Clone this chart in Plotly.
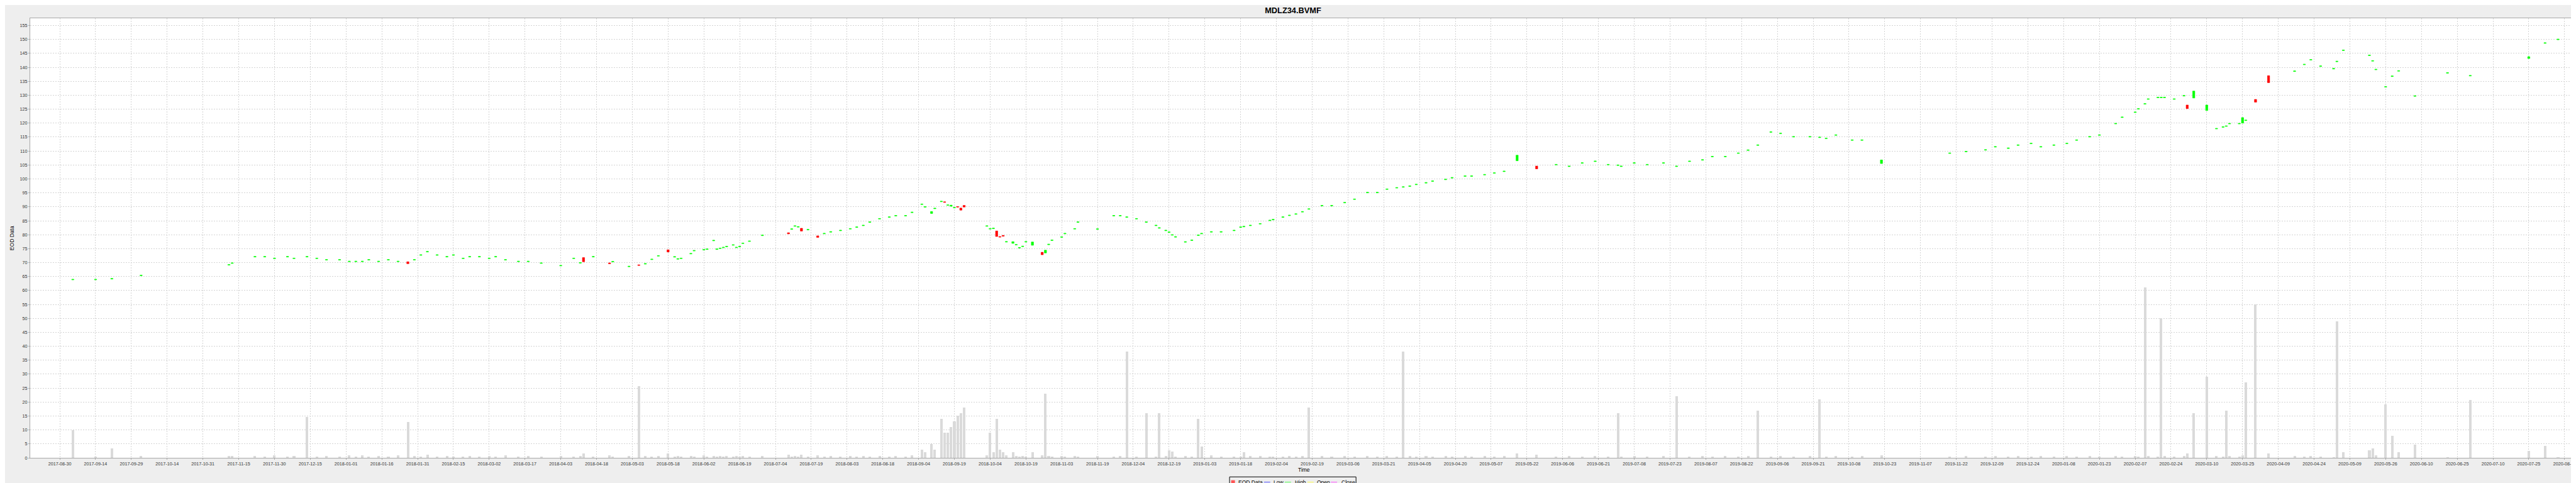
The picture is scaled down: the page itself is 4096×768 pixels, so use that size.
import numpy as np
import plotly.graph_objects as go

ORIGIN = "2017-08-30"   # trading-day axis origin (weekends skipped)
TICK_STEP = 11          # trading days between labelled ticks

dates = [
 "2017-09-05","2017-09-14","2017-09-21","2017-10-04","2017-11-10","2017-11-13","2017-11-22","2017-11-27",
 "2017-11-30","2017-12-06","2017-12-08","2017-12-14","2017-12-19","2017-12-22","2017-12-28","2018-01-02",
 "2018-01-04","2018-01-08","2018-01-10","2018-01-15","2018-01-18","2018-01-23","2018-01-26","2018-01-30",
 "2018-02-01","2018-02-05","2018-02-08","2018-02-13","2018-02-15","2018-02-20","2018-02-22","2018-02-27",
 "2018-03-02","2018-03-06","2018-03-09","2018-03-15","2018-03-20","2018-03-26","2018-04-03","2018-04-09",
 "2018-04-11","2018-04-12","2018-04-17","2018-04-24","2018-04-25","2018-05-02","2018-05-07","2018-05-09",
 "2018-05-11","2018-05-15","2018-05-18","2018-05-22","2018-05-23","2018-05-24","2018-05-29","2018-05-30",
 "2018-06-04","2018-06-05","2018-06-07","2018-06-08","2018-06-11","2018-06-12","2018-06-13","2018-06-15",
 "2018-06-18","2018-06-19","2018-06-20","2018-06-22","2018-06-28","2018-07-10","2018-07-11","2018-07-12",
 "2018-07-13","2018-07-16","2018-07-18","2018-07-23","2018-07-25","2018-07-27","2018-08-01","2018-08-06",
 "2018-08-08","2018-08-10","2018-08-14","2018-08-17","2018-08-22","2018-08-24","2018-08-29","2018-08-31",
 "2018-09-05","2018-09-06","2018-09-10","2018-09-11","2018-09-13","2018-09-14","2018-09-17","2018-09-18",
 "2018-09-19","2018-09-20","2018-09-21","2018-09-24","2018-10-03","2018-10-04","2018-10-05","2018-10-08",
 "2018-10-09","2018-10-10","2018-10-11","2018-10-15","2018-10-16","2018-10-17","2018-10-18","2018-10-19",
 "2018-10-23","2018-10-26","2018-10-29","2018-10-30","2018-10-31","2018-11-05","2018-11-06","2018-11-09",
 "2018-11-12","2018-11-20","2018-11-27","2018-11-29","2018-12-03","2018-12-06","2018-12-11","2018-12-14",
 "2018-12-17","2018-12-19","2018-12-20","2018-12-21","2018-12-24","2018-12-27","2018-12-31","2019-01-02",
 "2019-01-03","2019-01-08","2019-01-11","2019-01-17","2019-01-21","2019-01-22","2019-01-24","2019-01-29",
 "2019-02-01","2019-02-04","2019-02-07","2019-02-11","2019-02-13","2019-02-15","2019-02-19","2019-02-25",
 "2019-02-28","2019-03-06","2019-03-11","2019-03-15","2019-03-20","2019-03-25","2019-03-28","2019-04-01",
 "2019-04-03","2019-04-05","2019-04-10","2019-04-12","2019-04-18","2019-04-22","2019-04-26","2019-04-30",
 "2019-05-06","2019-05-09","2019-05-14","2019-05-20","2019-05-28","2019-06-05","2019-06-11","2019-06-17",
 "2019-06-21","2019-06-27","2019-07-02","2019-07-03","2019-07-09","2019-07-15","2019-07-22","2019-07-26",
 "2019-08-01","2019-08-07","2019-08-12","2019-08-16","2019-08-22","2019-08-27","2019-08-30","2019-09-05",
 "2019-09-10","2019-09-16","2019-09-23","2019-09-26","2019-09-30","2019-10-03","2019-10-10","2019-10-15",
 "2019-10-23","2019-11-21","2019-11-28","2019-12-06","2019-12-11","2019-12-17","2019-12-20","2019-12-26",
 "2019-12-31","2020-01-06","2020-01-10","2020-01-15","2020-01-21","2020-01-24","2020-01-31","2020-02-04",
 "2020-02-10","2020-02-11","2020-02-13","2020-02-14","2020-02-19","2020-02-20","2020-02-21","2020-02-26",
 "2020-03-02","2020-03-03","2020-03-05","2020-03-11","2020-03-16","2020-03-18","2020-03-19","2020-03-20",
 "2020-03-25","2020-03-26","2020-03-27","2020-04-01","2020-04-07","2020-04-17","2020-04-22","2020-04-24",
 "2020-04-29","2020-05-05","2020-05-06","2020-05-08","2020-05-20","2020-05-21","2020-05-22","2020-05-27",
 "2020-05-29","2020-06-02","2020-06-09","2020-06-23","2020-07-02","2020-07-28","2020-08-04","2020-08-10",
]
opens = [
 63.8,63.8,64.1,65.3,69.1,69.7,72.0,72.0,  71.4,72.0,71.4,72.0,71.4,70.9,70.9,70.3,
 70.3,70.3,70.9,70.3,70.9,70.3,70.3,70.9,  72.6,73.8,72.6,72.0,72.6,71.4,72.0,72.0,
 71.4,72.0,70.9,70.3,70.3,69.7,68.8,71.4,  69.8,71.8,72.0,69.9,70.25,68.5,69.2,69.45,
 71.05,72.3,74.6,71.95,71.2,71.4,73.1,74.15,  74.5,74.7,77.8,74.7,75.0,75.3,75.65,76.2,
 75.3,75.65,76.8,77.55,79.65,80.7,81.9,83.0,  82.7,82.3,81.7,79.6,80.3,80.9,81.4,82.0,
 82.6,83.2,84.4,85.6,86.2,86.7,86.7,87.9,  90.8,89.85,87.6,89.3,91.8,91.8,90.5,90.2,
 89.6,90.1,89.55,90.5,83.0,82.0,82.15,81.35,  79.35,79.75,77.35,76.9,76.3,75.2,75.7,77.35,
 76.2,73.7,73.45,76.4,77.9,79.05,80.3,82.0,  84.4,81.9,86.7,86.7,86.2,85.6,84.4,83.2,
 82.3,81.4,80.8,79.8,79.1,77.3,77.9,79.7,  80.3,80.9,80.9,81.4,82.6,82.8,83.2,83.8,
 85.0,85.3,86.2,86.8,87.3,88.1,89.1,90.3,  90.3,91.4,92.6,95.0,95.0,96.2,96.7,97.0,
 97.3,97.9,98.5,99.1,99.7,100.3,100.9,100.9,  101.4,102.0,102.6,106.5,104.6,105.0,104.4,105.6,
 106.2,105.0,104.8,104.4,105.6,105.0,105.6,104.4,  106.2,106.7,107.9,107.9,109.1,110.2,112.0,116.7,
 116.2,115.0,115.0,114.8,114.4,115.6,113.8,113.8,  105.5,109.1,109.7,110.3,111.4,110.9,112.0,112.6,
 111.4,112.0,112.6,113.8,115.0,115.6,119.7,122.0,  123.8,125.0,126.8,128.5,129.1,129.1,129.1,128.5,
 129.7,126.5,129.0,124.5,117.9,118.5,118.8,119.7,  119.7,120.0,120.9,128.5,137.0,138.5,140.9,142.6,
 140.3,139.4,142.0,146.0,144.2,142.2,139.1,132.9,  136.7,138.6,129.6,137.9,136.9,143.15,148.6,149.9,
]
closes = [
 64.0,64.0,64.3,65.5,69.3,69.9,72.2,72.2,  71.6,72.2,71.6,72.2,71.6,71.1,71.1,70.5,
 70.5,70.5,71.1,70.5,71.1,70.5,69.6,71.1,  72.8,74.0,72.8,72.2,72.8,71.6,72.2,72.2,
 71.6,72.2,71.1,70.5,70.5,69.9,69.0,71.6,  70.0,70.3,72.2,69.6,70.45,68.7,69.0,69.65,
 71.25,72.5,73.8,72.15,71.4,71.6,73.3,74.35,  74.7,74.9,78.0,74.9,75.2,75.5,75.85,76.4,
 75.5,75.85,77.0,77.75,79.85,80.3,82.1,83.2,  82.9,81.3,81.9,79.0,80.5,81.1,81.6,82.2,
 82.8,83.4,84.6,85.8,86.4,86.9,86.9,88.1,  91.0,90.05,88.3,89.5,92.0,91.6,90.7,90.6,
 89.8,89.9,88.8,89.9,83.2,82.2,82.35,79.35,  79.15,79.45,77.55,77.5,76.5,75.4,75.9,77.55,
 77.4,72.8,74.45,76.6,78.1,79.25,80.5,82.2,  84.6,82.1,86.9,86.9,86.4,85.8,84.6,83.4,
 82.5,81.6,81.0,80.0,79.3,77.5,78.1,79.9,  80.5,81.1,81.1,81.6,82.8,83.0,83.4,84.0,
 85.2,85.5,86.4,87.0,87.5,88.3,89.3,90.5,  90.5,91.6,92.8,95.2,95.2,96.4,96.9,97.2,
 97.5,98.1,98.7,99.3,99.9,100.5,101.1,101.1,  101.6,102.2,102.8,108.5,103.6,105.2,104.6,105.8,
 106.4,105.2,105.0,104.6,105.8,105.2,105.8,104.6,  106.4,106.9,108.1,108.1,109.3,110.4,112.2,116.9,
 116.4,115.2,115.2,115.0,114.6,115.8,114.0,114.0,  106.8,109.3,109.9,110.5,111.6,111.1,112.2,112.8,
 111.6,112.2,112.8,114.0,115.2,115.8,119.9,122.2,  124.0,125.2,127.0,128.7,129.3,129.3,129.3,128.7,
 129.9,125.2,131.5,126.5,118.1,118.7,119.0,119.9,  119.9,122.0,121.1,127.5,134.5,138.7,141.1,142.8,
 140.5,139.6,142.2,146.2,144.4,142.4,139.3,133.1,  136.9,138.8,129.8,138.1,137.1,143.8,148.8,150.1,
]
highs = [
 64.0,64.0,64.3,65.5,69.3,69.9,72.2,72.2,  71.6,72.2,71.6,72.2,71.6,71.1,71.1,70.5,
 70.5,70.5,71.1,70.5,71.1,70.5,70.3,71.1,  72.8,74.0,72.8,72.2,72.8,71.6,72.2,72.2,
 71.6,72.2,71.1,70.5,70.5,69.9,69.0,71.6,  70.0,71.8,72.2,69.9,70.45,68.7,69.2,69.65,
 71.25,72.5,74.6,72.15,71.4,71.6,73.3,74.35,  74.7,74.9,78.0,74.9,75.2,75.5,75.85,76.4,
 75.5,75.85,77.0,77.75,79.85,80.7,82.1,83.2,  82.9,82.3,81.9,79.6,80.5,81.1,81.6,82.2,
 82.8,83.4,84.6,85.8,86.4,86.9,86.9,88.1,  91.0,90.05,88.3,89.5,92.0,91.8,90.7,90.6,
 89.8,90.1,89.55,90.5,83.2,82.2,82.35,81.35,  79.35,79.75,77.55,77.5,76.5,75.4,75.9,77.55,
 77.4,73.7,74.45,76.6,78.1,79.25,80.5,82.2,  84.6,82.1,86.9,86.9,86.4,85.8,84.6,83.4,
 82.5,81.6,81.0,80.0,79.3,77.5,78.1,79.9,  80.5,81.1,81.1,81.6,82.8,83.0,83.4,84.0,
 85.2,85.5,86.4,87.0,87.5,88.3,89.3,90.5,  90.5,91.6,92.8,95.2,95.2,96.4,96.9,97.2,
 97.5,98.1,98.7,99.3,99.9,100.5,101.1,101.1,  101.6,102.2,102.8,108.5,104.6,105.2,104.6,105.8,
 106.4,105.2,105.0,104.6,105.8,105.2,105.8,104.6,  106.4,106.9,108.1,108.1,109.3,110.4,112.2,116.9,
 116.4,115.2,115.2,115.0,114.6,115.8,114.0,114.0,  106.8,109.3,109.9,110.5,111.6,111.1,112.2,112.8,
 111.6,112.2,112.8,114.0,115.2,115.8,119.9,122.2,  124.0,125.2,127.0,128.7,129.3,129.3,129.3,128.7,
 129.9,126.5,131.5,126.5,118.1,118.7,119.0,119.9,  119.9,122.0,121.1,128.5,137.0,138.7,141.1,142.8,
 140.5,139.6,142.2,146.2,144.4,142.4,139.3,133.1,  136.9,138.8,129.8,138.1,137.1,144.2,148.8,150.1,
]
lows = [
 63.8,63.8,64.1,65.3,69.1,69.7,72.0,72.0,  71.4,72.0,71.4,72.0,71.4,70.9,70.9,70.3,
 70.3,70.3,70.9,70.3,70.9,70.3,69.6,70.9,  72.6,73.8,72.6,72.0,72.6,71.4,72.0,72.0,
 71.4,72.0,70.9,70.3,70.3,69.7,68.8,71.4,  69.8,70.3,72.0,69.6,70.25,68.5,69.0,69.45,
 71.05,72.3,73.8,71.95,71.2,71.4,73.1,74.15,  74.5,74.7,77.8,74.7,75.0,75.3,75.65,76.2,
 75.3,75.65,76.8,77.55,79.65,80.3,81.9,83.0,  82.7,81.3,81.7,79.0,80.3,80.9,81.4,82.0,
 82.6,83.2,84.4,85.6,86.2,86.7,86.7,87.9,  90.8,89.85,87.6,89.3,91.8,91.6,90.5,90.2,
 89.6,89.9,88.8,89.9,83.0,82.0,82.15,79.35,  79.15,79.45,77.35,76.9,76.3,75.2,75.7,77.35,
 76.2,72.8,73.45,76.4,77.9,79.05,80.3,82.0,  84.4,81.9,86.7,86.7,86.2,85.6,84.4,83.2,
 82.3,81.4,80.8,79.8,79.1,77.3,77.9,79.7,  80.3,80.9,80.9,81.4,82.6,82.8,83.2,83.8,
 85.0,85.3,86.2,86.8,87.3,88.1,89.1,90.3,  90.3,91.4,92.6,95.0,95.0,96.2,96.7,97.0,
 97.3,97.9,98.5,99.1,99.7,100.3,100.9,100.9,  101.4,102.0,102.6,106.5,103.6,105.0,104.4,105.6,
 106.2,105.0,104.8,104.4,105.6,105.0,105.6,104.4,  106.2,106.7,107.9,107.9,109.1,110.2,112.0,116.7,
 116.2,115.0,115.0,114.8,114.4,115.6,113.8,113.8,  105.5,109.1,109.7,110.3,111.4,110.9,112.0,112.6,
 111.4,112.0,112.6,113.8,115.0,115.6,119.7,122.0,  123.8,125.0,126.8,128.5,129.1,129.1,129.1,128.5,
 129.7,125.2,129.0,124.5,117.9,118.5,118.8,119.7,  119.7,120.0,120.9,127.5,134.5,138.5,140.9,142.6,
 140.3,139.4,142.0,146.0,144.2,142.2,139.1,132.9,  136.7,138.6,129.6,137.9,136.9,143.15,148.6,149.9,
]
volumes = [
 10.0,0.4,3.4,0.7,0.7,0.7,0.6,0.4,  0.8,0.5,0.6,14.6,0.5,0.7,0.4,0.8,
 0.5,1.0,0.5,0.6,0.5,0.8,12.8,0.6,  0.5,1.2,0.5,0.6,0.5,0.4,0.7,0.5,
 0.6,0.4,0.8,0.5,0.6,0.5,0.6,0.5,  0.7,1.5,0.5,0.8,0.5,0.6,25.8,0.6,
 0.5,0.7,1.5,0.5,0.6,0.5,0.7,0.5,  0.8,0.5,0.6,0.5,0.7,0.5,0.6,0.5,
 0.7,0.5,0.6,0.5,0.6,1.2,0.5,0.6,  0.5,1.2,0.5,1.0,0.5,0.6,0.5,0.7,
 0.5,0.6,0.5,0.7,0.5,0.6,0.5,1.0,  3.0,2.0,5.0,3.0,14.0,9.0,9.0,11.0,
 13.0,15.0,16.0,18.0,1.0,9.0,2.0,14.0,  3.0,2.0,1.0,2.0,0.6,0.5,0.6,0.5,
 2.0,1.0,23.0,0.6,0.5,0.6,0.5,0.6,  0.5,0.6,0.5,0.6,38.0,0.5,16.0,0.5,
 16.0,0.6,2.8,2.35,0.5,0.6,0.5,14.0,  4.0,1.0,0.37,0.5,0.5,2.0,0.7,0.7,
 0.5,0.37,0.5,0.7,0.5,0.7,18.0,0.6,  0.5,0.6,0.5,0.6,0.5,0.6,0.5,38.0,
 0.6,0.5,0.6,0.5,0.6,0.5,0.6,0.5,  0.6,0.5,0.6,1.5,1.2,0.5,0.6,0.5,
 0.6,0.5,16.0,0.5,0.6,0.5,0.6,22.0,  0.5,0.6,0.5,0.6,0.5,0.6,17.0,0.5,
 0.6,0.5,0.6,21.0,0.5,0.6,0.5,0.6,  1.0,0.5,0.6,0.5,0.6,0.5,0.6,0.5,
 0.6,0.5,0.6,0.5,0.6,0.5,0.6,0.5,  0.6,0.5,61.0,0.6,0.5,50.0,0.6,0.5,
 0.6,1.5,16.0,29.0,0.6,0.5,17.0,0.6,  0.5,1.0,27.0,55.0,1.5,0.6,0.5,0.6,
 0.5,0.2,49.0,2.0,2.7,3.35,0.95,19.2,  8.0,2.0,4.7,0.2,20.8,2.55,4.3,0.2,
]
tick_labels = [
 "2017-08-30","2017-09-14","2017-09-29","2017-10-14","2017-10-31","2017-11-15","2017-11-30","2017-12-15",
 "2018-01-01","2018-01-16","2018-01-31","2018-02-15","2018-03-02","2018-03-17","2018-04-03","2018-04-18",
 "2018-05-03","2018-05-18","2018-06-02","2018-06-19","2018-07-04","2018-07-19","2018-08-03","2018-08-18",
 "2018-09-04","2018-09-19","2018-10-04","2018-10-19","2018-11-03","2018-11-19","2018-12-04","2018-12-19",
 "2019-01-03","2019-01-18","2019-02-04","2019-02-19","2019-03-06","2019-03-21","2019-04-05","2019-04-20",
 "2019-05-07","2019-05-22","2019-06-06","2019-06-21","2019-07-08","2019-07-23","2019-08-07","2019-08-22",
 "2019-09-06","2019-09-21","2019-10-08","2019-10-23","2019-11-07","2019-11-22","2019-12-09","2019-12-24",
 "2020-01-08","2020-01-23","2020-02-07","2020-02-24","2020-03-10","2020-03-25","2020-04-09","2020-04-24",
 "2020-05-09","2020-05-26","2020-06-10","2020-06-25","2020-07-10","2020-07-25","2020-08-11",
]

# ---------------- layout geometry (output pixels) ----------------
S = 0.711
W, H = 4096, 768
L, R, T, B = 40.0, 6.0, 20.8, 47.5
PW, PH = W - L - R, H - T - B
FONT = "Liberation Sans, Arial, sans-serif"

def px(xf):   # reference-pixel x -> paper
    return (xf * S - L) / PW

def py(yf):   # reference-pixel y -> paper
    return (H - B - yf * S) / PH

x = np.busday_count(ORIGIN, np.array(dates, dtype="datetime64[D]"))

fig = go.Figure()
fig.add_trace(go.Bar(x=x, y=volumes, width=0.78, marker=dict(color="#DADADA", line=dict(width=0)),
                     showlegend=False, hoverinfo="skip"))
fig.add_trace(go.Candlestick(
    x=x, open=opens, high=highs, low=lows, close=closes, whiskerwidth=0,
    increasing=dict(line=dict(color="#00FF00", width=0.6), fillcolor="#00FF00"),
    decreasing=dict(line=dict(color="#FF0000", width=0.6), fillcolor="#FF0000"),
    showlegend=False, name="EOD Data"))

grid = dict(showgrid=True, gridcolor="#D4D4D4", gridwidth=0.8, griddash="2px,2px",
            showline=True, linecolor="#A8A8A8", linewidth=1, mirror=True, zeroline=False,
            ticks="outside", ticklen=2, tickcolor="#A8A8A8",
            tickfont=dict(family=FONT, size=7.2, color="#333333"))

fig.update_layout(
    width=W, height=H, margin=dict(l=L, r=R, t=T, b=B, autoexpand=False),
    paper_bgcolor="#EEEEEE", plot_bgcolor="#FFFFFF",
    boxgap=0.04, bargap=0, showlegend=False,
    title=dict(text="<b>MDLZ34.BVMF</b>", x=0.5, xref="container", xanchor="center",
               y=1 - 9.0 / H, yref="container", yanchor="middle",
               font=dict(family=FONT, size=12.8, color="#000000")),
    xaxis=dict(range=[-9.1, 773.9], tickvals=[TICK_STEP * k for k in range(len(tick_labels))],
               ticktext=tick_labels, rangeslider=dict(visible=False), **grid),
    yaxis=dict(range=[0, 157.6], tick0=0, dtick=5, **grid),
)

ann = [
    dict(text="Time", x=0.5, y=py(1040.7), xanchor="center", yanchor="middle"),
    dict(text="EOD Data", x=px(15), y=0.5, xanchor="center", yanchor="middle", textangle=-90),
]
# legend (drawn manually to match the compact boxed legend)
shapes = [dict(type="rect", xref="paper", yref="paper", x0=px(2738.5), x1=px(3021.3),
               y0=py(1079.3), y1=py(1056), line=dict(color="#000000", width=1), fillcolor="rgba(0,0,0,0)"),
          dict(type="rect", xref="paper", yref="paper", x0=px(2742), x1=px(2750.5),
               y0=py(1071.8), y1=py(1063.5), line=dict(width=0), fillcolor="#FF5555")]
ann.append(dict(text="EOD Data", x=px(2755), y=py(1067.7), xanchor="left", yanchor="middle"))
legend_lines = [("Low", "#5555FF", 2815.5, 2834.2), ("High", "#55FF55", 2862, 2881.3),
                ("Open", "#FFFF55", 2912.5, 2931.4), ("Close", "#FF55FF", 2965, 2985.4)]
for name, col, x0, xt in legend_lines:
    shapes.append(dict(type="line", xref="paper", yref="paper", x0=px(x0), x1=px(x0 + 14),
                       y0=py(1067.7), y1=py(1067.7), line=dict(color=col, width=1)))
    ann.append(dict(text=name, x=px(xt), y=py(1067.7), xanchor="left", yanchor="middle"))
for a in ann:
    a.update(xref="paper", yref="paper", showarrow=False)
    a.setdefault("font", dict(family=FONT, size=8.53, color="#000000"))
fig.update_layout(annotations=ann, shapes=shapes)

fig.write_html("out.html")
